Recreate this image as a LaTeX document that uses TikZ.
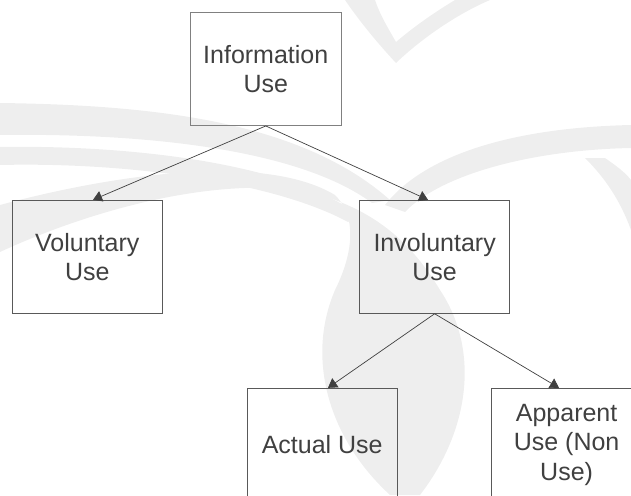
\documentclass[tikz,border=0pt]{standalone}
\usepackage{fontspec}
\setmainfont{Liberation Sans}
\usetikzlibrary{arrows.meta,calc}
\definecolor{txt}{HTML}{404040}
\definecolor{edge}{HTML}{404040}
\definecolor{wm}{HTML}{EEEEEE}
\tikzset{
  box/.style={draw=black!65, line width=0.9pt, fill=none, minimum width=150.5pt, minimum height=113pt,
    inner sep=0pt, align=center, text=txt, font=\fontsize{25}{29.4}\selectfont},
  conn/.style={draw=edge, line width=0.7pt, -{Triangle[length=9pt,width=11pt]}},
  wmark/.style={fill=wm, draw=none}
}
\begin{document}
\begin{tikzpicture}[x=1pt,y=-1pt]
\useasboundingbox (0,0) rectangle (631,495);
% watermark
\path[wmark] (345,0) .. controls (362,25) and (382,48) .. (396,63) .. controls (420,40) and (455,15) .. (490,0) -- (455,0) .. controls (430,15) and (410,30) .. (396,42) .. controls (388,28) and (380,15) .. (375,0) -- cycle;
\path[wmark] (0,103) .. controls (150,105) and (300,120) .. (390,200) -- (372,203) .. controls (300,150) and (150,133) .. (0,135) -- cycle;
\path[wmark] (0,147) .. controls (120,145) and (280,160) .. (360,215) -- (348,222) .. controls (270,180) and (120,162) .. (0,165) -- cycle;
\path[wmark] (0,205) .. controls (100,178) and (260,150) .. (335,195) .. controls (360,220) and (350,260) .. (335,290) .. controls (305,360) and (330,440) .. (390,495) -- (420,495) .. controls (470,430) and (480,350) .. (440,290) .. controls (410,240) and (370,205) .. (300,190) .. controls (200,178) and (80,215) .. (0,252) -- cycle;
\path[wmark] (385,205) .. controls (420,160) and (500,128) .. (631,125) -- (631,148) .. controls (530,150) and (440,175) .. (405,212) -- cycle;
\path[wmark] (585,158) -- (605,158) .. controls (615,165) and (625,172) .. (631,180) -- (631,230) .. controls (620,200) and (605,178) .. (585,158) -- cycle;
% nodes
\node[box, draw=black!50] (info) at (265.75,69) {Information\\Use};
\node[box] (vol) at (87.3,256.8) {Voluntary\\Use};
\node[box] (invol) at (434.65,256.8) {Involuntary\\Use};
\node[box] (act) at (322.2,444.8) {Actual Use};
\node[box] (app) at (566.6,444.8) {Apparent\\Use (Non\\Use)};
% connectors
\draw[conn] (info.south) -- ($(vol.north)+(5.7,0)$);
\draw[conn] (info.south) -- ($(invol.north)+(-6.6,0)$);
\draw[conn] (invol.south) -- ($(act.north)+(5.8,0)$);
\draw[conn] (invol.south) -- ($(app.north)+(-7.6,0)$);
\end{tikzpicture}
\end{document}
